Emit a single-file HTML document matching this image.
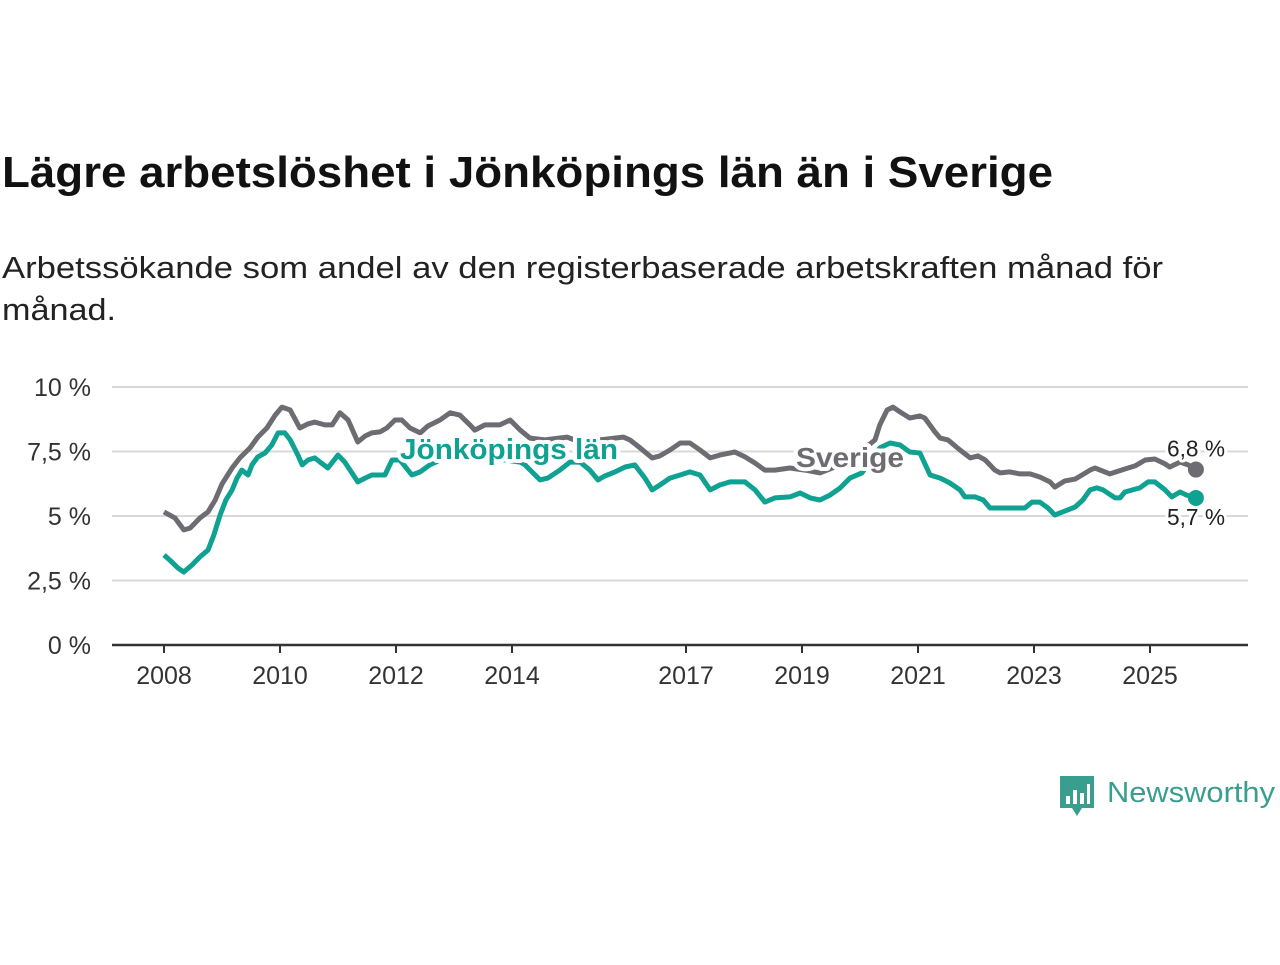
<!DOCTYPE html>
<html><head><meta charset="utf-8">
<style>
body{margin:0;background:#fff;width:1280px;height:960px;overflow:hidden;font-family:"Liberation Sans","DejaVu Sans",sans-serif;}
</style></head>
<body>
<svg width="1280" height="960" xmlns="http://www.w3.org/2000/svg">
<text x="2" y="187" font-size="44" font-weight="bold" fill="#111" textLength="1051" lengthAdjust="spacingAndGlyphs">Lägre arbetslöshet i Jönköpings län än i Sverige</text>
<text x="2" y="278" font-size="31" fill="#222" textLength="1161" lengthAdjust="spacingAndGlyphs">Arbetssökande som andel av den registerbaserade arbetskraften månad för</text>
<text x="2" y="320" font-size="31" fill="#222" textLength="114" lengthAdjust="spacingAndGlyphs">månad.</text>
<g id="grid"></g>
<g id="xaxis"></g>
<g id="lines"></g>
<g id="labels"></g>
<g>
<path d="M1060 776 h34 v32 h-12 l-5 8 l-5 -8 h-12 z" fill="#3a9e8f"/>
<rect x="1066" y="796" width="4" height="8" fill="#fff"/><rect x="1073" y="790" width="4" height="14" fill="#fff"/><rect x="1080" y="793" width="4" height="11" fill="#fff"/><rect x="1087" y="784" width="3" height="20" fill="#fff"/>
<text x="1107" y="802" font-size="29" fill="#3a9e8f" textLength="168" lengthAdjust="spacingAndGlyphs">Newsworthy</text>
</g>
</svg>
<script>
const yTicks=[0,2.5,5,7.5,10];
const yTickLabels=["0 %","2,5 %","5 %","7,5 %","10 %"];
const xTickYears=[2008,2010,2012,2014,2017,2019,2021,2023,2025];
const seMonths=[0,2.3,4.1,5.4,7.4,9.1,10.6,12,14.1,15.7,17.8,19.4,21.3,23,24.4,26.1,28.1,29.8,31.2,33.3,34.8,36.4,38.1,40.1,41.6,43,44.7,46.1,47.8,49.2,50.9,53,54.6,57.1,59.2,61.2,63.3,64.3,66.4,69.5,71.6,73.7,75.7,78.8,83.4,86.1,90.2,95,96.4,98.5,101,102.6,104.7,106.8,108.8,110.9,113,115,118.1,120.2,122.3,124.3,126.4,129.5,132.6,135.7,139.9,144,147.1,148.1,149.6,150.8,152.3,154.3,156.4,157.4,159.5,160.6,162.2,164.7,166.8,168.4,169.9,171.9,173,175,177.1,179.2,181.2,183.3,184.3,186.4,188.5,191.6,192.6,195.7,198.8,200.9,203,205,207.1,208.1,210.2,211.9,213.5];
const seValues=[5.16,4.92,4.46,4.53,4.92,5.16,5.62,6.24,6.86,7.25,7.64,8.06,8.41,8.91,9.22,9.11,8.41,8.57,8.64,8.53,8.53,9.0,8.72,7.87,8.1,8.22,8.26,8.41,8.72,8.72,8.41,8.22,8.49,8.72,9.0,8.91,8.53,8.33,8.53,8.53,8.72,8.33,8.02,7.95,8.06,7.87,7.95,8.06,7.95,7.64,7.25,7.33,7.56,7.83,7.83,7.56,7.25,7.36,7.48,7.29,7.05,6.78,6.78,6.86,6.78,6.67,6.98,7.48,7.95,8.53,9.11,9.22,9.03,8.8,8.88,8.8,8.26,8.02,7.95,7.56,7.25,7.33,7.17,6.78,6.67,6.71,6.63,6.63,6.51,6.32,6.12,6.36,6.43,6.78,6.86,6.63,6.82,6.94,7.17,7.21,7.02,6.9,7.09,6.98,6.8];
const jkMonths=[0,1.2,2.9,4.1,5.8,7.4,9.1,10.3,11.6,12.8,14.1,15.1,16.1,17.4,18.2,19.4,20.9,22.3,23.6,25,26.1,27.7,28.6,29.8,31.2,32.3,33.9,36,37.4,40.1,41.6,43,45.7,47.2,48.8,51.3,53,55,58.1,61.2,64.3,67.4,70.6,73.7,74.7,77.8,79.4,81.9,84,86.1,88.1,89.8,91.2,93.3,95.4,97.4,99.5,101,102.6,104.7,106.8,108.8,110.9,113,115,117.1,120.2,122.3,124.3,126.4,129.5,131.6,133.7,135.7,137.8,139.9,141.9,144.4,148.1,150.2,152.3,154.3,156.4,158.5,160.6,162.6,164.7,165.7,167.8,169.5,170.9,173,178.1,179.6,181.2,182.9,184.3,186.4,188.5,190.1,191.6,193,194.3,196.8,197.8,198.8,201.9,203.6,205,207.1,208.5,210.2,211.6,213.5];
const jkValues=[3.49,3.29,2.98,2.83,3.1,3.41,3.68,4.26,5.04,5.62,6.01,6.47,6.78,6.59,6.98,7.29,7.44,7.75,8.22,8.22,7.95,7.36,6.98,7.17,7.25,7.09,6.86,7.36,7.09,6.32,6.47,6.59,6.59,7.17,7.17,6.59,6.71,6.98,7.25,7.36,7.36,7.25,7.17,7.09,6.98,6.4,6.47,6.78,7.09,7.09,6.78,6.4,6.55,6.71,6.9,6.98,6.47,6.01,6.2,6.47,6.59,6.71,6.59,6.01,6.2,6.32,6.32,6.01,5.54,5.7,5.74,5.89,5.7,5.62,5.81,6.09,6.47,6.67,7.64,7.83,7.75,7.48,7.44,6.59,6.47,6.28,6.01,5.74,5.74,5.62,5.31,5.31,5.31,5.54,5.54,5.31,5.04,5.19,5.35,5.62,6.01,6.09,6.01,5.7,5.7,5.93,6.09,6.32,6.32,6.01,5.74,5.93,5.81,5.7];

const NS="http://www.w3.org/2000/svg";
const X0=112,X1=1248,Y0=645;
function xm(m){return 164+m*58/12;}
function xy(yr){return 164+(yr-2008)*58;}
function yv(v){return Y0-v*25.8;}
function mk(tag,attrs,parent){const e=document.createElementNS(NS,tag);for(const k in attrs)e.setAttribute(k,attrs[k]);parent.appendChild(e);return e;}
const grid=document.getElementById('grid');
yTicks.forEach((t,i)=>{
  if(t>0){const l=mk('line',{x1:X0,x2:X1,y1:yv(t),y2:yv(t),stroke:'#d9d9d9','stroke-width':2},grid);
  
  }
  const tx=mk('text',{x:91,y:yv(t)+9,'font-size':25,fill:'#333','text-anchor':'end'},grid);
  tx.textContent=yTickLabels[i];
  
  
});
const xa=document.getElementById('xaxis');
const ax=mk('line',{x1:X0,x2:X1,y1:Y0,y2:Y0,stroke:'#333','stroke-width':2.5},xa);


xTickYears.forEach(yr=>{
  const x=xy(yr);
  const tk=mk('line',{x1:x,x2:x,y1:Y0,y2:Y0+8,stroke:'#333','stroke-width':2},xa);
  
  
  const t=mk('text',{x:x,y:684,'font-size':25,fill:'#333','text-anchor':'middle'},xa);
  t.textContent=yr;
  
  
});
const lines=document.getElementById('lines');
function draw(ms,vs,color,name){
  const d=ms.map((m,i)=>(i?'L':'M')+xm(m).toFixed(1)+' '+yv(vs[i]).toFixed(1)).join(' ');
  const p=mk('path',{d:d,fill:'none',stroke:color,'stroke-width':5,'stroke-linejoin':'round'},lines);
  
  
  const n=ms.length-1;
  const c=mk('circle',{cx:xm(ms[n]),cy:yv(vs[n]),r:8,fill:color},lines);
  
  
}
draw(seMonths,seValues,'#6d6c72','sverige');
draw(jkMonths,jkValues,'#0fa191','jonkoping');
const lb=document.getElementById('labels');
function lab(x,y,txt,size,col,w,name,len){
  const a={x:x,y:y,'font-size':size,'font-weight':w,fill:col,'text-anchor':'middle',stroke:'#fff','stroke-width':w==='bold'?8:6,'paint-order':'stroke','stroke-linejoin':'round'};
  if(len){a.textLength=len;a.lengthAdjust='spacingAndGlyphs';}
  const t=mk('text',a,lb);
  t.textContent=txt;
  
  
}
lab(509,459,'Jönköpings län',29,'#0fa191','bold','jonkoping-series-label',218);
lab(850,467,'Sverige',28,'#6d6c72','bold','sverige-series-label',108);
const n1=seMonths.length-1,n2=jkMonths.length-1;
lab(1196,yv(seValues[n1])-13,'6,8 %',23,'#222','normal','sverige-end-value',58);
lab(1196,yv(jkValues[n2])+27,'5,7 %',23,'#222','normal','jonkoping-end-value',58);
</script>
</body></html>
